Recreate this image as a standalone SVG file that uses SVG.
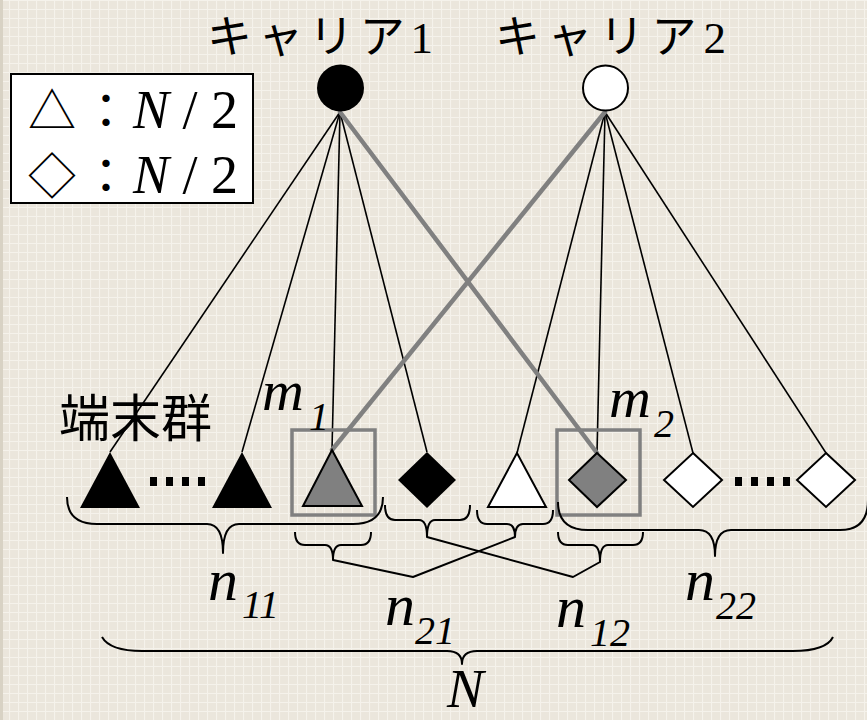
<svg xmlns="http://www.w3.org/2000/svg" width="867" height="720" viewBox="0 0 867 720">
<defs>
<pattern id="grid" width="9" height="9" patternUnits="userSpaceOnUse">
<rect width="9" height="9" fill="#ebe6dc"/>
<path d="M0 0.5H9M0.5 0V9" stroke="#f5f2eb" stroke-width="1.2" fill="none"/>
</pattern>
<style>
.ln{stroke:#000;stroke-width:1.6;fill:none}
.gl{stroke:#808080;stroke-width:4.5;fill:none;stroke-linecap:round}
.br{stroke:#000;stroke-width:2;fill:none;stroke-linejoin:round}
.box{stroke:#808080;stroke-width:3.5;fill:none}
.blk{fill:#000}
.gry{fill:#808080;stroke:#000;stroke-width:2}
.wht{fill:#fff;stroke:#000;stroke-width:2}
.jp{font-family:"Liberation Serif","Noto Sans CJK JP",serif;fill:#000}
.it{font-family:"Liberation Serif","Times New Roman","DejaVu Serif",serif;font-style:italic;fill:#000}
.rm{font-family:"Liberation Serif","Times New Roman","DejaVu Serif",serif;fill:#000}
</style>
</defs>
<rect width="867" height="720" fill="url(#grid)"/>
<rect x="0" y="0" width="3" height="720" fill="#d8d2c4"/>

<g id="connectors">
<line class="ln" x1="340" y1="112" x2="110" y2="452"/>
<line class="ln" x1="340" y1="112" x2="242" y2="452"/>
<line class="ln" x1="340" y1="112" x2="332" y2="450"/>
<line class="ln" x1="340" y1="112" x2="427" y2="452"/>
<line class="ln" x1="605" y1="112" x2="517" y2="453"/>
<line class="ln" x1="605" y1="112" x2="597" y2="453"/>
<line class="ln" x1="605" y1="112" x2="693" y2="453"/>
<line class="ln" x1="605" y1="112" x2="826" y2="453"/>
<line class="gl" x1="340" y1="112" x2="597" y2="453"/>
<line class="gl" x1="605" y1="112" x2="332" y2="450"/>
</g>

<g id="carrier1">
<circle cx="340.5" cy="88" r="23.5" fill="#000"/>
<text class="jp" x="207" y="53" font-size="45" textLength="226" lengthAdjust="spacing">キャリア1</text>
</g>
<g id="carrier2">
<circle cx="605.5" cy="88" r="22.5" class="wht"/>
<text class="jp" x="495" y="53" font-size="45" textLength="231" lengthAdjust="spacing">キャリア2</text>
</g>

<g id="legend">
<rect x="11" y="74" width="242" height="129" fill="#fff" stroke="#000" stroke-width="2"/>
<text class="rm" y="128" font-size="54"><tspan x="28" font-family="Noto Sans CJK JP,sans-serif" font-size="48">△</tspan><tspan x="82" font-family="Noto Sans CJK JP,sans-serif" font-size="48">：</tspan><tspan x="133" font-style="italic">N</tspan> / 2</text>
<text class="rm" y="193" font-size="54"><tspan x="28" font-family="Noto Sans CJK JP,sans-serif" font-size="48">◇</tspan><tspan x="82" font-family="Noto Sans CJK JP,sans-serif" font-size="48">：</tspan><tspan x="133" font-style="italic">N</tspan> / 2</text>
</g>

<g id="terminal-label">
<text class="jp" x="59" y="437" font-size="51">端末群</text>
</g>

<g id="t1"><polygon class="blk" points="110,452 80,508 140,508"/></g>
<g id="dots1" class="blk">
<rect x="150" y="477" width="7" height="9"/><rect x="166" y="477" width="7" height="9"/><rect x="182" y="477" width="7" height="9"/><rect x="198" y="477" width="7" height="9"/>
</g>
<g id="t2"><polygon class="blk" points="242,452 212,508 272,508"/></g>
<g id="m1node">
<rect class="box" x="292" y="430" width="83" height="85"/>
<polygon class="gry" points="332,450 303,506 362,506"/>
<text class="it" x="262" y="410" font-size="58">m<tspan x="309" y="430" font-size="40">1</tspan></text>
</g>
<g id="d1"><polygon class="blk" points="427,452 456,480 427,508 398,480"/></g>
<g id="t3"><polygon class="wht" points="517,453 488,507 546,507"/></g>
<g id="m2node">
<rect class="box" x="557" y="430" width="83" height="85"/>
<polygon class="gry" points="597,453 626,480 597,507 569,480"/>
<text class="it" x="609" y="417" font-size="58">m<tspan x="654" y="437" font-size="40">2</tspan></text>
</g>
<g id="d2"><polygon class="wht" points="693,453 722,480 693,507 664,480"/></g>
<g id="dots2" class="blk">
<rect x="735" y="477" width="7" height="9"/><rect x="751" y="477" width="7" height="9"/><rect x="767" y="477" width="7" height="9"/><rect x="783" y="477" width="7" height="9"/>
</g>
<g id="d3"><polygon class="wht" points="826,453 855,480 826,507 797,480"/></g>

<g id="braces">
<path class="br" d="M67,497 Q67,524 97,524 L207,524 Q223,524 223,553 Q223,524 239,524 L353,524 Q383,524 383,497"/>
<path class="br" d="M102,637 Q110,651 142,651 L447,651 Q462,651 462,664 Q462,651 477,651 L793,651 Q826,651 833,637"/>
<path class="br" d="M558,502 Q558,530 588,530 L699,530 Q715,530 715,556 Q715,530 731,530 L840,530 Q868,530 868,500"/>
<path class="br" d="M295,532 Q295,545 305,545 L325,545 Q333,545 333,560 Q333,545 341,545 L361,545 Q371,545 371,532"/>
<path class="br" d="M385,505 Q385,520 395,520 L419,520 Q427,520 427,537 Q427,520 435,520 L460,520 Q470,520 470,505"/>
<path class="br" d="M477,510 Q477,524 487,524 L507,524 Q515,524 515,537 Q515,524 523,524 L543,524 Q553,524 553,510"/>
<path class="br" d="M558,532 Q558,545 568,545 L592,545 Q600,545 600,562 Q600,545 608,545 L633,545 Q643,545 643,532"/>
<polyline class="br" points="333,560 413,577 515,537"/>
<polyline class="br" points="427,537 573,577 600,562"/>
</g>

<g id="labels">
<text class="it" x="208" y="600" font-size="60">n<tspan x="242" y="618" font-size="40">11</tspan></text>
<text class="it" x="385" y="625" font-size="60">n<tspan x="415" y="644" font-size="40">21</tspan></text>
<text class="it" x="556" y="627" font-size="60">n<tspan x="590" y="646" font-size="40">12</tspan></text>
<text class="it" x="685" y="600" font-size="60">n<tspan x="716" y="619" font-size="40">22</tspan></text>
<text class="it" x="447" y="707" font-size="55">N</text>
</g>
</svg>
